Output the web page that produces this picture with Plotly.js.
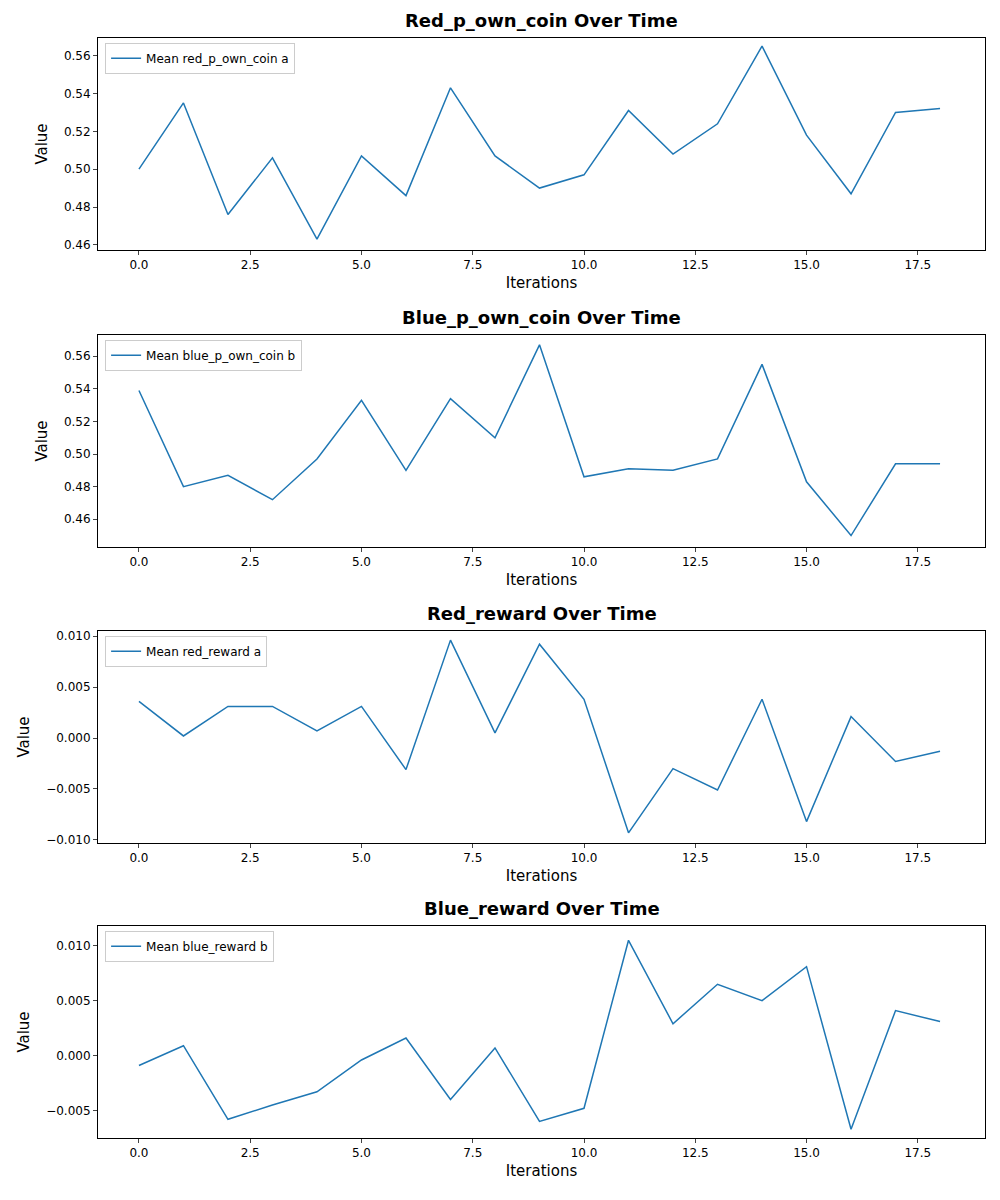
<!DOCTYPE html>
<html><head><script src="https://cdn.plot.ly/plotly-3.0.1.min.js"></script>
<style>body{margin:0}</style></head><body><div id="c" style="width:1000px;height:1200px"></div>
<script>
const iterations = [0,1,2,3,4,5,6,7,8,9,10,11,12,13,14,15,16,17,18];
const redPOwnCoin = [0.500,0.535,0.476,0.506,0.463,0.507,0.486,0.543,0.507,0.490,0.497,0.531,0.508,0.524,0.565,0.518,0.487,0.530,0.532];
const bluePOwnCoin = [0.539,0.480,0.487,0.472,0.497,0.533,0.490,0.534,0.510,0.567,0.486,0.491,0.490,0.497,0.555,0.483,0.450,0.494,0.494];
const redReward = [0.0036,0.0002,0.0031,0.0031,0.0007,0.0031,-0.0031,0.0096,0.0005,0.0092,0.0038,-0.0093,-0.0030,-0.0051,0.0038,-0.0082,0.0021,-0.0023,-0.0013];
const blueReward = [-0.0009,0.0009,-0.0058,-0.0045,-0.0033,-0.0004,0.0016,-0.0040,0.0007,-0.0060,-0.0048,0.0105,0.0029,0.0065,0.0050,0.0081,-0.0067,0.0041,0.0031];
const names = ['Mean red_p_own_coin a','Mean blue_p_own_coin b','Mean red_reward a','Mean blue_reward b'];
const titles = ['Red_p_own_coin Over Time','Blue_p_own_coin Over Time','Red_reward Over Time','Blue_reward Over Time'];
const series = [redPOwnCoin, bluePOwnCoin, redReward, blueReward];
const domains = [[0.7917,0.9683],[0.5442,0.7208],[0.2975,0.4742],[0.0517,0.2283]];
const yranges = [[0.4573,0.5693],[0.4430,0.5730],[-0.0103,0.0105],[-0.0075,0.0118]];
const ytf = ['.2f','.2f','.3f','.3f'];
const ydt = [0.02,0.02,0.005,0.005];
const data=[], ann=[];
const layout={width:1000,height:1200,margin:{l:98,r:15,t:0,b:0,autoexpand:false},showlegend:true,
  font:{family:'DejaVu Sans',size:12,color:'#000'},plot_bgcolor:'#fff',paper_bgcolor:'#fff',annotations:ann};
series.forEach((s,i)=>{
  const n=i?String(i+1):'';
  data.push({x:iterations,y:s,type:'scatter',mode:'lines',name:names[i],line:{color:'#1f77b4',width:1.5},
    xaxis:'x'+n,yaxis:'y'+n,legend:'legend'+n});
  const ax={showline:true,mirror:true,linecolor:'#000',linewidth:1,ticks:'outside',ticklen:4,showgrid:false,zeroline:false,tickfont:{size:12}};
  layout['xaxis'+n]=Object.assign({},ax,{domain:[0,1],anchor:'y'+n,range:[-0.92,19.01],dtick:2.5,tick0:0,tickformat:'.1f',
    title:{text:'Iterations',font:{size:15},standoff:6}});
  layout['yaxis'+n]=Object.assign({},ax,{domain:domains[i],anchor:'x'+n,range:yranges[i],dtick:ydt[i],tickformat:ytf[i],
    title:{text:'Value',font:{size:15},standoff:12}});
  layout['legend'+n]={x:0.008,y:domains[i][1]-0.004,xanchor:'left',yanchor:'top',bordercolor:'#ccc',borderwidth:1,
    bgcolor:'rgba(255,255,255,0.8)',font:{size:12}};
  ann.push({text:'<b>'+titles[i]+'</b>',xref:'paper',yref:'paper',x:0.5,y:domains[i][1]+0.004,xanchor:'center',yanchor:'bottom',showarrow:false,font:{size:18}});
});
Plotly.newPlot('c',data,layout,{displayModeBar:false});
</script></body></html>
